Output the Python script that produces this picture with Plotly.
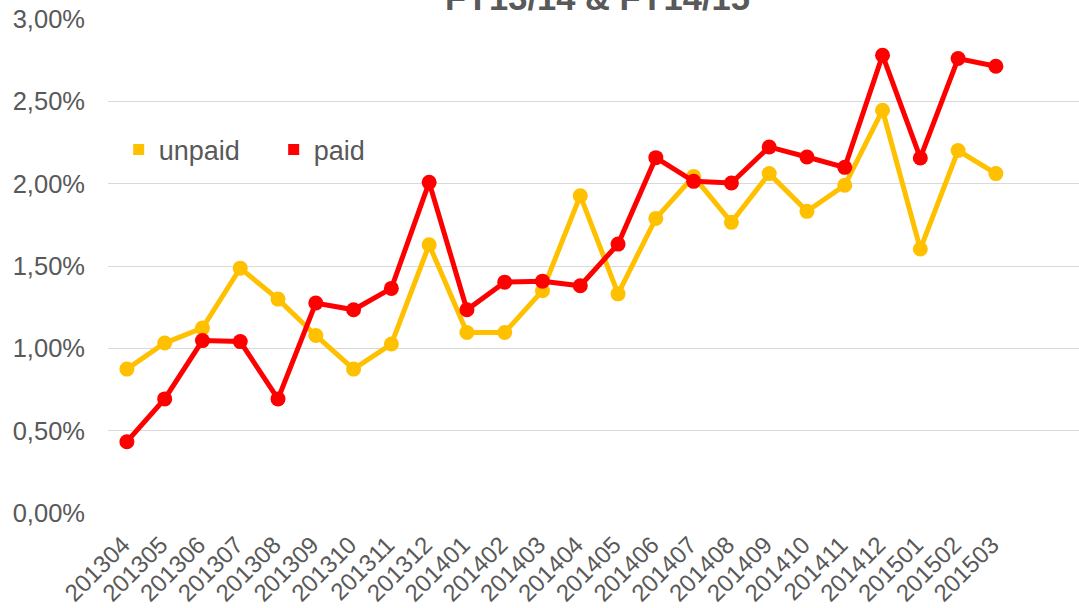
import plotly.graph_objects as go

months = ["201304", "201305", "201306", "201307", "201308", "201309", "201310",
          "201311", "201312", "201401", "201402", "201403", "201404", "201405",
          "201406", "201407", "201408", "201409", "201410", "201411", "201412",
          "201501", "201502", "201503"]

unpaid = [0.874, 1.032, 1.123, 1.487, 1.299, 1.078, 0.874, 1.026, 1.629, 1.096,
          1.096, 1.350, 1.927, 1.331, 1.789, 2.044, 1.765, 2.061, 1.832, 1.990,
          2.446, 1.603, 2.201, 2.061]

paid = [0.433, 0.693, 1.047, 1.041, 0.693, 1.275, 1.234, 1.364, 2.008, 1.234,
        1.402, 1.408, 1.380, 1.633, 2.158, 2.014, 2.004, 2.223, 2.162, 2.099,
        2.780, 2.156, 2.760, 2.713]

y_ticks = [0.0, 0.5, 1.0, 1.5, 2.0, 2.5, 3.0]
y_labels = ["0,00%", "0,50%", "1,00%", "1,50%", "2,00%", "2,50%", "3,00%"]

title_text = "FY13/14 & FY14/15"

YELLOW = "#FFC000"
RED = "#FF0000"
GREY = "#595959"
FONT = "Liberation Sans, Arial, sans-serif"

fig = go.Figure()

fig.add_trace(go.Scatter(x=months, y=unpaid, mode="lines+markers", name="unpaid",
                         line=dict(color=YELLOW, width=5),
                         marker=dict(color=YELLOW, size=15), showlegend=False))
fig.add_trace(go.Scatter(x=months, y=paid, mode="lines+markers", name="paid",
                         line=dict(color=RED, width=5),
                         marker=dict(color=RED, size=15), showlegend=False))

# legend entries: square swatches
fig.add_trace(go.Scatter(x=[None], y=[None], mode="markers", name="unpaid",
                         marker=dict(color=YELLOW, size=11, symbol="square")))
fig.add_trace(go.Scatter(x=[None], y=[None], mode="markers", name="paid",
                         marker=dict(color=RED, size=11, symbol="square")))

fig.add_annotation(text="<b>" + title_text + "</b>", xref="paper", yref="paper",
                   x=0.504, y=1.0, xanchor="center", yanchor="bottom",
                   showarrow=False, font=dict(family=FONT, size=34.5, color=GREY))

fig.update_layout(
    width=1079, height=608,
    margin=dict(l=108, r=0, t=19, b=95, autoexpand=False),
    paper_bgcolor="white", plot_bgcolor="white",
    font=dict(family=FONT, color=GREY, size=24),
    legend=dict(orientation="h", x=0.011, y=0.735, xanchor="left", yanchor="middle",
                bgcolor="rgba(0,0,0,0)", font=dict(size=27, color=GREY),
                itemwidth=30, entrywidth=110, tracegroupgap=0),
    xaxis=dict(type="category", categoryorder="array", categoryarray=months,
               range=[-0.5, 25.2], showgrid=False, showline=False, zeroline=False,
               ticks="", tickangle=-45, tickfont=dict(size=24, color=GREY),
               ticklabelstandoff=12, ticklabelshift=-4, automargin=False),
    yaxis=dict(range=[0, 3.0], tickvals=y_ticks, ticktext=y_labels,
               showgrid=True, gridcolor="#D9D9D9", gridwidth=1.3, zeroline=False,
               showline=False, ticks="", tickfont=dict(size=25.5, color=GREY),
               ticklabelstandoff=22, automargin=False),
)

fig.write_html("out.html", config={"displayModeBar": False},
               post_script="document.body.style.margin='0';")
